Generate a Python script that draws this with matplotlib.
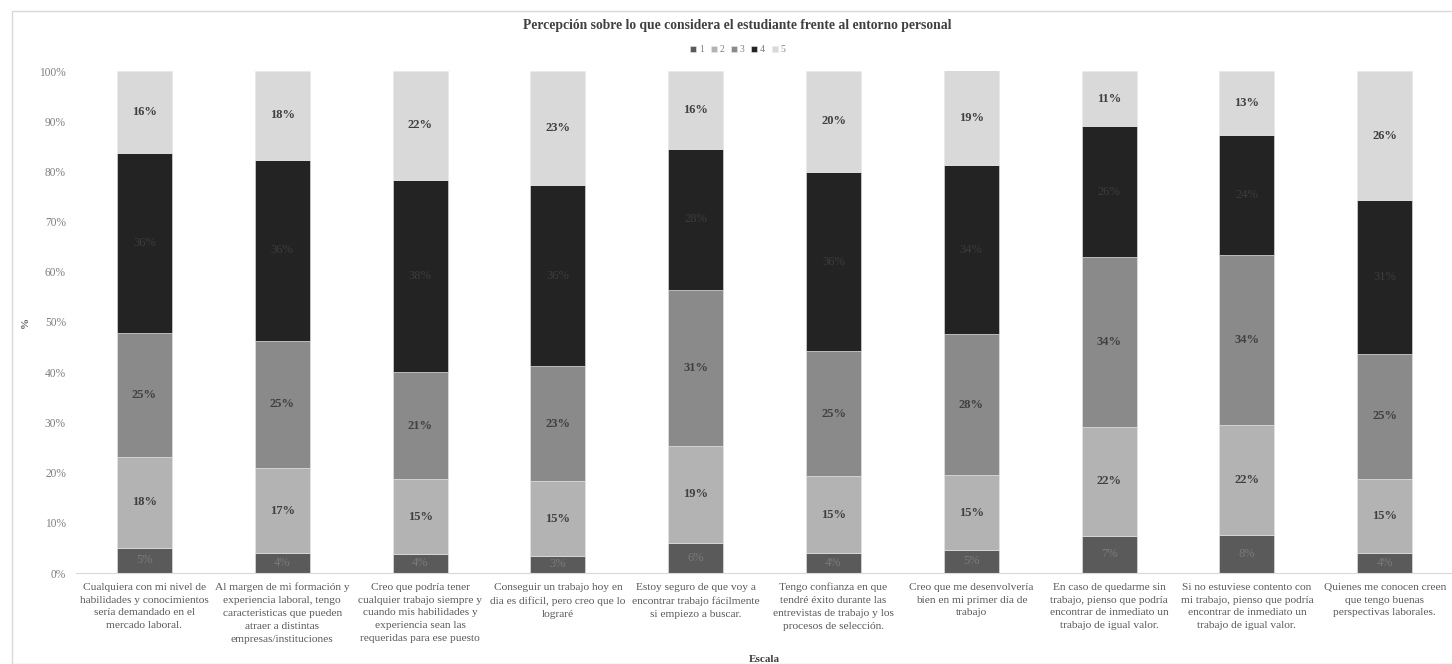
import matplotlib
matplotlib.use("Agg")
import matplotlib.pyplot as plt
import matplotlib.patches as mpatches
import numpy as np

plt.rcParams['font.family'] = ['Liberation Serif', 'DejaVu Serif']

# --- Datos ---
categorias = [
    "Cualquiera con mi nivel de\nhabilidades y conocimientos\nsería demandado en el\nmercado laboral.",
    "Al margen de mi formación y\nexperiencia laboral, tengo\ncaracteristicas que pueden\natraer a distintas\nempresas/instituciones",
    "Creo que podría tener\ncualquier trabajo siempre y\ncuando mis habilidades y\nexperiencia sean las\nrequeridas para ese puesto",
    "Conseguir un trabajo hoy en\ndia es difícil, pero creo que lo\nlograré",
    "Estoy seguro de que voy a\nencontrar trabajo fácilmente\nsi empiezo a buscar.",
    "Tengo confianza en que\ntendré éxito durante las\nentrevistas de trabajo y los\nprocesos de selección.",
    "Creo que me desenvolvería\nbien en mi primer día de\ntrabajo",
    "En caso de quedarme sin\ntrabajo, pienso que podría\nencontrar de inmediato un\ntrabajo de igual valor.",
    "Si no estuviese contento con\nmi trabajo, pienso que podría\nencontrar de inmediato un\ntrabajo de igual valor.",
    "Quienes me conocen creen\nque tengo buenas\nperspectivas laborales.",
]

escala = ['1', '2', '3', '4', '5']

# porcentajes por nivel de la escala
nivel_1 = [5.0, 4.0, 3.8, 3.4, 6.0, 4.0, 4.6, 7.4, 7.6, 4.0]
nivel_2 = [18.1, 16.9, 14.9, 14.9, 19.3, 15.3, 14.9, 21.7, 21.9, 14.8]
nivel_3 = [24.7, 25.4, 21.3, 22.9, 31.1, 24.9, 28.1, 33.8, 33.8, 24.8]
nivel_4 = [35.9, 36.0, 38.3, 36.1, 28.1, 35.7, 33.6, 26.1, 24.0, 30.7]
nivel_5 = [16.3, 17.7, 21.7, 22.7, 15.5, 20.1, 18.9, 11.0, 12.7, 25.7]

series = [nivel_1, nivel_2, nivel_3, nivel_4, nivel_5]
colores = ['#5a5a5a', '#b3b3b3', '#8a8a8a', '#232323', '#d9d9d9']
color_texto = ['#7a7a7a', '#404040', '#404040', '#3c3c3c', '#404040']
peso_texto = ['normal', 'bold', 'bold', 'normal', 'bold']

# --- Figura ---
fig = plt.figure(figsize=(14.52, 6.64), dpi=100)
W, H = 1452, 664
ax = fig.add_axes([75.6 / W, (H - 573) / H, 1378 / W, 502 / H])

x = np.arange(len(categorias))
base = np.zeros(len(categorias))
for i, datos in enumerate(series):
    vals = np.array(datos) / 100
    ax.bar(x, vals, 0.4, bottom=base, color=colores[i], edgecolor='#e8e8e8',
           linewidth=0.4, label=escala[i])
    for xi, b, v in zip(x, base, vals):
        ax.text(xi, b + v / 2, f"{v * 100:.0f}%", ha='center', va='center',
                fontsize=9, color=color_texto[i], fontweight=peso_texto[i])
    base += vals

ax.set_xlim(-0.5, len(categorias) - 0.5)
ax.set_ylim(0, 1)
ax.set_yticks(np.arange(0, 1.01, 0.1))
ax.set_yticklabels([f"{int(round(t * 100))}%" for t in np.arange(0, 1.01, 0.1)])
ax.set_xticks(x)
ax.set_xticklabels(categorias, fontsize=8.2, color='#595959', linespacing=1.55)
ax.tick_params(axis='y', length=0, labelsize=8.3, colors='#7f7f7f', pad=7)
ax.tick_params(axis='x', length=0, pad=7)

for lado in ['top', 'right', 'left']:
    ax.spines[lado].set_visible(False)
ax.spines['bottom'].set_color('#d9d9d9')

ax.set_ylabel('%', fontsize=8, color='#595959', fontweight='bold')
ax.yaxis.set_label_coords(-(76 - 30) / 1378, 0.5)
ax.set_xlabel('Escala', fontsize=8, color='#404040', fontweight='bold')
ax.xaxis.set_label_coords(0.5, -(655 - 573) / 502)

fig.text(737 / W, 1 - 26 / H, 'Percepción sobre lo que considera el estudiante frente al entorno personal',
         ha='center', va='center', fontsize=9.8, fontweight='bold', color='#404040')

fig.legend(loc='center', bbox_to_anchor=(738 / W, 1 - 50 / H), ncol=5, frameon=False,
           fontsize=7, handlelength=0.6, handleheight=0.6, handletextpad=0.3,
           columnspacing=0.7, labelcolor='#7f7f7f')

# marco del gráfico
fig.patches.append(mpatches.Rectangle((12 / W, 0), 1.2, 1 - 11 / H, transform=fig.transFigure,
                                      fill=False, edgecolor='#d9d9d9', linewidth=1))

fig.savefig('out.png', dpi=100)
